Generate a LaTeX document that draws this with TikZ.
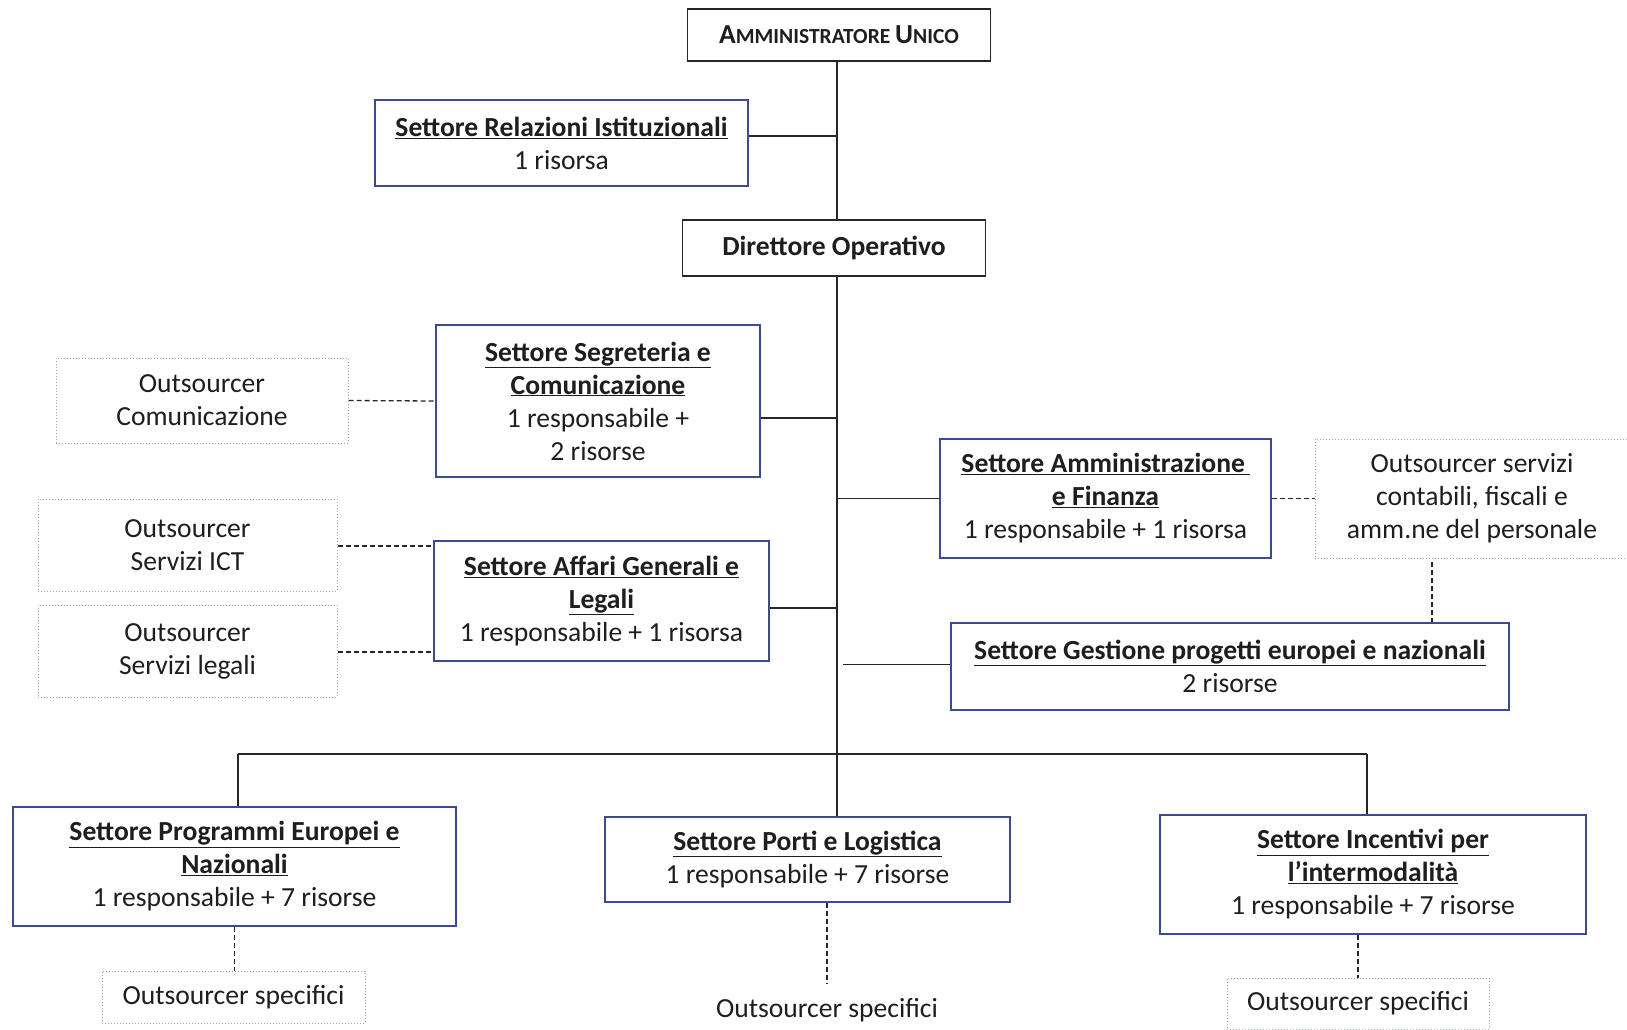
\documentclass[tikz,border=0pt]{standalone}
\usepackage{fontspec}
\setmainfont{Carlito}
\definecolor{boxblue}{RGB}{60,75,140}
\definecolor{txt}{RGB}{30,30,30}
\definecolor{obord}{RGB}{160,165,185}
\newcommand{\fsz}{\fontsize{27.6pt}{33pt}\selectfont}
\newcommand{\ul}[1]{\underline{\textbf{#1}}}
\begin{document}
\begin{tikzpicture}[x=1pt,y=-1pt,
  sbox/.style={draw=boxblue, line width=1.2pt, align=center, inner sep=0pt, font=\fsz, text=txt, fill=white},
  bbox/.style={draw=black!85, line width=1.5pt, align=center, inner sep=0pt, font=\fsz, text=txt, fill=white},
  obox/.style={draw=obord, dotted, line width=1pt, align=center, inner sep=0pt, font=\fsz, text=txt},
  conn/.style={draw=black!85, line width=1.6pt},
  dconn/.style={draw=black!85, line width=1.3pt, dash pattern=on 5pt off 3pt}]
\useasboundingbox[fill=white] (0,0) rectangle (1627,1029);

% top
\node[bbox, minimum width=303pt, minimum height=52pt] (AU) at (839,35)
  {\textbf{\fontsize{27.5pt}{30pt}\selectfont A\fontsize{21.5pt}{24pt}\selectfont MMINISTRATORE \fontsize{27.5pt}{30pt}\selectfont U\fontsize{21.5pt}{24pt}\selectfont NICO}};
\node[sbox, minimum width=373pt, minimum height=86pt] (RI) at (561.5,143)
  {\ul{Settore Relazioni Istituzionali}\\1 risorsa};
\node[bbox, minimum width=303pt, minimum height=56pt] (DO) at (834,248)
  {\textbf{Direttore Operativo}};

% left side
\node[sbox, minimum width=324pt, minimum height=152pt] (SC) at (598,401)
  {\ul{Settore Segreteria e}\\\ul{Comunicazione}\\1 responsabile +\\2 risorse};
\node[obox, minimum width=292pt, minimum height=85pt] (OC) at (202,400.5)
  {Outsourcer\\Comunicazione};
\node[sbox, minimum width=335pt, minimum height=120pt] (AG) at (601.5,601)
  {\ul{Settore Affari Generali e}\\\ul{Legali}\\1 responsabile + 1 risorsa};
\node[obox, minimum width=299pt, minimum height=92pt] (ICT) at (187.5,545)
  {Outsourcer\\Servizi ICT};
\node[obox, minimum width=299pt, minimum height=92pt] (LEG) at (187.5,651)
  {Outsourcer\\Servizi legali};

% right side
\node[sbox, minimum width=331pt, minimum height=119pt] (AF) at (1105.5,498.5)
  {\ul{Settore Amministrazione\,}\\\ul{e Finanza}\\1 responsabile + 1 risorsa};
\node[obox, minimum width=314pt, minimum height=119pt] (OCF) at (1472,498.5)
  {Outsourcer servizi\\contabili, fiscali e\\amm.ne del personale};
\node[sbox, minimum width=558pt, minimum height=87pt] (GP) at (1230,666.5)
  {\ul{Settore Gestione progetti europei e nazionali}\\2 risorse};

% bottom
\node[sbox, minimum width=443pt, minimum height=119pt] (PE) at (234.5,866.5)
  {\ul{Settore Programmi Europei e}\\\ul{Nazionali}\\1 responsabile + 7 risorse};
\node[sbox, minimum width=405pt, minimum height=85pt] (PL) at (807.5,859.5)
  {\ul{Settore Porti e Logistica}\\1 responsabile + 7 risorse};
\node[sbox, minimum width=426pt, minimum height=119pt] (II) at (1373,874.5)
  {\ul{Settore Incentivi per}\\\ul{l’intermodalità}\\1 responsabile + 7 risorse};
\node[obox, minimum width=263pt, minimum height=52pt] (OS1) at (233.5,997)
  {Outsourcer specifici};
\node[font=\fsz, text=txt, inner sep=0pt] (OS2) at (827,1010)
  {Outsourcer specifici};
\node[obox, minimum width=262pt, minimum height=51pt] (OS3) at (1358,1003.5)
  {Outsourcer specifici};

% trunk and bus
\coordinate (busL) at (238,754);
\coordinate (busM) at (837,754);
\coordinate (busR) at (1367,754);
\draw[conn] (AU.south -| busM) -- (DO.north -| busM);
\draw[conn] (DO.south -| busM) -- (busM);
\draw[conn, line width=2.2pt] (busL) -- (busR);
\draw[conn] (busL) -- (busL |- PE.north);
\draw[conn] (busM) -- (busM |- PL.north);
\draw[conn] (busR) -- (busR |- II.north);

% side branches
\draw[conn] ([yshift=7pt]RI.east) -- ([yshift=7pt]RI.east -| busM);
\draw[conn] ([yshift=-17pt]SC.east) -- ([yshift=-17pt]SC.east -| busM);
\draw[conn] ([yshift=-7pt]AG.east) -- ([yshift=-7pt]AG.east -| busM);
\draw[conn] (AF.west) -- (AF.west -| busM);
\draw[conn] ([yshift=2pt]GP.west) -- ([yshift=2pt,xshift=6pt]GP.west -| busM);

% dashed links
\draw[dconn] (OC.east) -- (SC.west);
\draw[dconn] ([yshift=-1pt]ICT.east) -- ([yshift=-1pt]ICT.east -| AG.west);
\draw[dconn] ([yshift=-1pt]LEG.east) -- ([yshift=-1pt]LEG.east -| AG.west);
\draw[dconn] (AF.east) -- (OCF.west);
\draw[dconn] ([xshift=-40pt,yshift=-3pt]OCF.south) -- ([xshift=-40pt]OCF.south |- GP.north);
\draw[dconn] (PE.south) -- (PE.south |- OS1.north);
\draw[dconn] (PL.south -| OS2.north) -- ([yshift=14pt]OS2.north);
\draw[dconn] (OS3.north |- II.south) -- (OS3.north);
\end{tikzpicture}
\end{document}
